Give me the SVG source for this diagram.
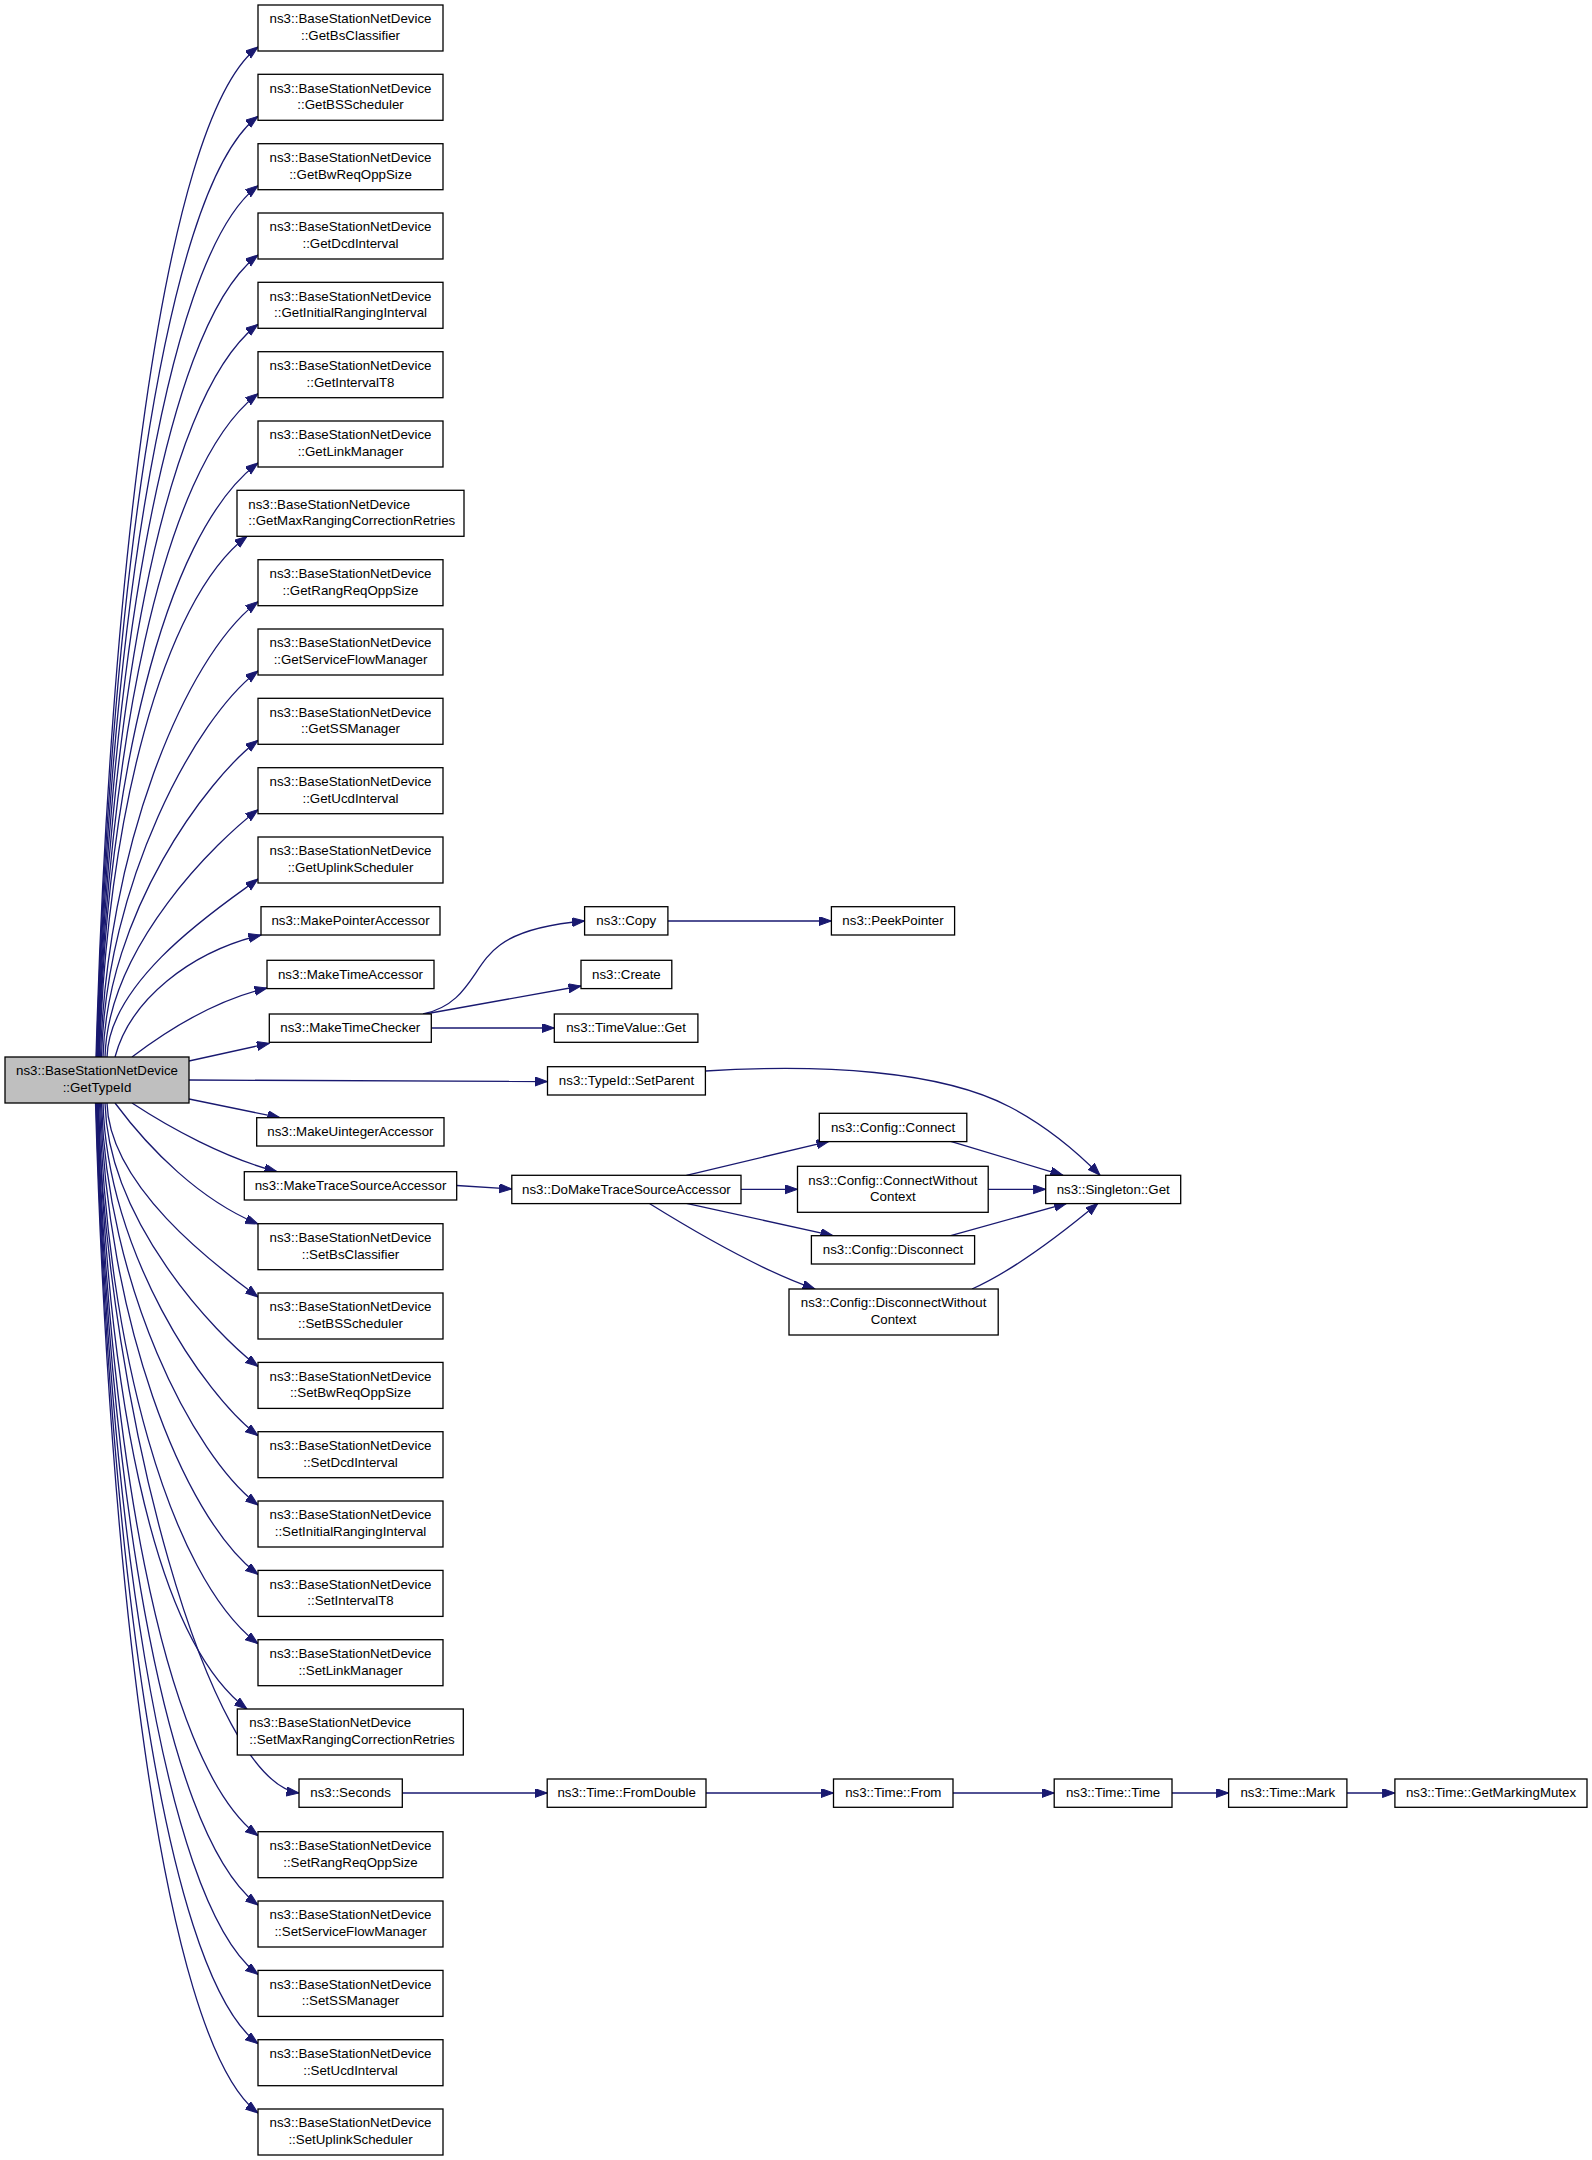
<svg xmlns="http://www.w3.org/2000/svg" width="1592" height="2160" viewBox="0 0 1592 2160">
<style>
.n rect{fill:#fff;stroke:#000;stroke-width:1.3}
.m rect{fill:#bfbfbf;stroke:#000;stroke-width:1.3}
text{font-family:"Liberation Sans",Arial,Helvetica,sans-serif;font-size:13.3px;fill:#000;text-anchor:middle}
text.l{text-anchor:start}
#edges path{fill:none;stroke:#191970;stroke-width:1.3;marker-end:url(#ah)}
</style>
<defs>
<marker id="ah" markerWidth="13" markerHeight="10" refX="12.5" refY="4.5" orient="auto" markerUnits="userSpaceOnUse">
<path d="M0,0 L12.5,4.5 L0,9 z" fill="#191970" stroke="#191970" stroke-width="1"/>
</marker>
</defs>
<rect width="1592" height="2160" fill="#fff"/>
<g id="edges">
<path d="M96,1057 C109.1,602.5 160,121 258,47"/>
<path d="M96.5,1057 C108.7,633.7 160,190.3 258,116.3"/>
<path d="M97,1057 C108.3,664.9 160,259.7 258,185.7"/>
<path d="M97.5,1057 C107.9,696.1 160,329 258,255"/>
<path d="M98,1057 C107.5,727.3 160,398.3 258,324.3"/>
<path d="M98.5,1057 C107.1,758.5 160,467.7 258,393.7"/>
<path d="M99,1057 C106.7,789.7 161,536.3 258,463"/>
<path d="M99.5,1057 C106.3,822.7 162,600.5 247,536.3"/>
<path d="M100.5,1057 C106.4,852.1 183.6,657.9 258,601.7"/>
<path d="M101.5,1057 C106.5,883.3 195,718.6 258,671"/>
<path d="M103,1057 C107.1,914.5 206.3,779.4 258,740.3"/>
<path d="M105,1057 C108.2,945.7 217.6,840.2 258,809.7"/>
<path d="M107,1057 C109.3,976.9 228.9,901 258,879"/>
<path d="M115,1057 C130,1000 190,952 261,935"/>
<path d="M132,1057 C165,1032 215,1000 267,988"/>
<path d="M189,1061 L269.3,1043.3"/>
<path d="M189,1080 L547.5,1081.5"/>
<path d="M189,1099 L280,1117.7"/>
<path d="M132,1103 C170,1128 225,1158 277,1171.7"/>
<path d="M115,1103 C150,1150 200,1200 258,1224"/>
<path d="M107,1103 C109.5,1190.3 226.3,1273.1 258,1297"/>
<path d="M105,1103 C108.4,1221.5 215,1333.9 258,1366.4"/>
<path d="M103,1103 C107.3,1252.7 203.7,1394.7 258,1435.7"/>
<path d="M101.5,1103 C106.7,1283.9 192.3,1455.4 258,1505"/>
<path d="M100.5,1103 C106.6,1315.1 181,1516.3 258,1574.4"/>
<path d="M99.5,1103 C106.5,1346.3 169.7,1577 258,1643.7"/>
<path d="M98.5,1103 C106.4,1375.7 149,1635 247,1709"/>
<path d="M98,1103 C107,1413 210,1782 299,1793"/>
<path d="M97.5,1103 C107,1432.7 160,1761.7 258,1835.7"/>
<path d="M97,1103 C107.4,1463.9 160,1831 258,1905"/>
<path d="M96.5,1103 C107.8,1495.1 160,1900.4 258,1974.4"/>
<path d="M96,1103 C108.2,1526.3 160,1969.7 258,2043.7"/>
<path d="M95.5,1103 C108.6,1557.5 160,2039 258,2113"/>
<path d="M423,1014 C470,1004 472,965 500,945 C520,930 550,924 584.6,921"/>
<path d="M425,1014 L581,986"/>
<path d="M431.3,1028 L554.3,1028"/>
<path d="M667.9,921 L831.4,921"/>
<path d="M705.4,1071 C820,1064 940,1070 1010,1107 C1050,1128 1080,1155 1100,1175.3"/>
<path d="M456.7,1185.5 L511.8,1189"/>
<path d="M686.4,1175.3 L829,1141.3"/>
<path d="M741,1189.3 L797.5,1189.3"/>
<path d="M686.4,1203.3 L833,1235.7"/>
<path d="M649,1203.3 C700,1235 760,1270 815,1289"/>
<path d="M950.7,1141.3 L1063,1175.3"/>
<path d="M988.2,1189.3 L1045.7,1189.3"/>
<path d="M950.7,1235.7 L1066.7,1203.3"/>
<path d="M972,1289 C1010,1272 1060,1235 1098,1203.3"/>
<path d="M402.3,1793 L547.2,1793"/>
<path d="M706,1793 L833.5,1793"/>
<path d="M953,1793 L1054.2,1793"/>
<path d="M1172,1793 L1228.6,1793"/>
<path d="M1346.9,1793 L1394.9,1793"/>
</g>
<g id="main" class="m"><rect x="5" y="1057" width="184" height="46"/><text x="97" y="1075.3">ns3::BaseStationNetDevice</text><text x="97" y="1092">::GetTypeId</text></g>
<g id="getBsClassifier" class="n"><rect x="258" y="5" width="185" height="46"/><text x="350.5" y="23.3">ns3::BaseStationNetDevice</text><text x="350.5" y="40">::GetBsClassifier</text></g>
<g id="getBSScheduler" class="n"><rect x="258" y="74.3" width="185" height="46"/><text x="350.5" y="92.6">ns3::BaseStationNetDevice</text><text x="350.5" y="109.3">::GetBSScheduler</text></g>
<g id="getBwReqOppSize" class="n"><rect x="258" y="143.7" width="185" height="46"/><text x="350.5" y="162">ns3::BaseStationNetDevice</text><text x="350.5" y="178.7">::GetBwReqOppSize</text></g>
<g id="getDcdInterval" class="n"><rect x="258" y="213" width="185" height="46"/><text x="350.5" y="231.3">ns3::BaseStationNetDevice</text><text x="350.5" y="248">::GetDcdInterval</text></g>
<g id="getInitialRangingInterval" class="n"><rect x="258" y="282.3" width="185" height="46"/><text x="350.5" y="300.6">ns3::BaseStationNetDevice</text><text x="350.5" y="317.3">::GetInitialRangingInterval</text></g>
<g id="getIntervalT8" class="n"><rect x="258" y="351.7" width="185" height="46"/><text x="350.5" y="370">ns3::BaseStationNetDevice</text><text x="350.5" y="386.7">::GetIntervalT8</text></g>
<g id="getLinkManager" class="n"><rect x="258" y="421" width="185" height="46"/><text x="350.5" y="439.3">ns3::BaseStationNetDevice</text><text x="350.5" y="456">::GetLinkManager</text></g>
<g id="getMaxRangingCorrectionRetries" class="n"><rect x="237" y="490.3" width="227" height="46"/><text class="l" x="248.3" y="508.6">ns3::BaseStationNetDevice</text><text class="l" x="248.3" y="525.3">::GetMaxRangingCorrectionRetries</text></g>
<g id="getRangReqOppSize" class="n"><rect x="258" y="559.7" width="185" height="46"/><text x="350.5" y="578">ns3::BaseStationNetDevice</text><text x="350.5" y="594.7">::GetRangReqOppSize</text></g>
<g id="getServiceFlowManager" class="n"><rect x="258" y="629" width="185" height="46"/><text x="350.5" y="647.3">ns3::BaseStationNetDevice</text><text x="350.5" y="664">::GetServiceFlowManager</text></g>
<g id="getSSManager" class="n"><rect x="258" y="698.3" width="185" height="46"/><text x="350.5" y="716.6">ns3::BaseStationNetDevice</text><text x="350.5" y="733.3">::GetSSManager</text></g>
<g id="getUcdInterval" class="n"><rect x="258" y="767.7" width="185" height="46"/><text x="350.5" y="786">ns3::BaseStationNetDevice</text><text x="350.5" y="802.7">::GetUcdInterval</text></g>
<g id="getUplinkScheduler" class="n"><rect x="258" y="837" width="185" height="46"/><text x="350.5" y="855.3">ns3::BaseStationNetDevice</text><text x="350.5" y="872">::GetUplinkScheduler</text></g>
<g id="makePointerAccessor" class="n"><rect x="261" y="906.7" width="179" height="28.3"/><text x="350.5" y="925">ns3::MakePointerAccessor</text></g>
<g id="makeTimeAccessor" class="n"><rect x="267" y="960.3" width="167" height="28.3"/><text x="350.5" y="978.6">ns3::MakeTimeAccessor</text></g>
<g id="makeTimeChecker" class="n"><rect x="269.3" y="1014" width="162" height="28.3"/><text x="350.3" y="1032.3">ns3::MakeTimeChecker</text></g>
<g id="makeUintegerAccessor" class="n"><rect x="256.7" y="1117.7" width="187.3" height="28.3"/><text x="350.4" y="1136">ns3::MakeUintegerAccessor</text></g>
<g id="makeTraceSourceAccessor" class="n"><rect x="244.3" y="1171.7" width="212.4" height="28.3"/><text x="350.5" y="1190">ns3::MakeTraceSourceAccessor</text></g>
<g id="setBsClassifier" class="n"><rect x="258" y="1223.7" width="185" height="46"/><text x="350.5" y="1242">ns3::BaseStationNetDevice</text><text x="350.5" y="1258.7">::SetBsClassifier</text></g>
<g id="setBSScheduler" class="n"><rect x="258" y="1293" width="185" height="46"/><text x="350.5" y="1311.3">ns3::BaseStationNetDevice</text><text x="350.5" y="1328">::SetBSScheduler</text></g>
<g id="setBwReqOppSize" class="n"><rect x="258" y="1362.4" width="185" height="46"/><text x="350.5" y="1380.7">ns3::BaseStationNetDevice</text><text x="350.5" y="1397.4">::SetBwReqOppSize</text></g>
<g id="setDcdInterval" class="n"><rect x="258" y="1431.7" width="185" height="46"/><text x="350.5" y="1450">ns3::BaseStationNetDevice</text><text x="350.5" y="1466.7">::SetDcdInterval</text></g>
<g id="setInitialRangingInterval" class="n"><rect x="258" y="1501" width="185" height="46"/><text x="350.5" y="1519.3">ns3::BaseStationNetDevice</text><text x="350.5" y="1536">::SetInitialRangingInterval</text></g>
<g id="setIntervalT8" class="n"><rect x="258" y="1570.4" width="185" height="46"/><text x="350.5" y="1588.7">ns3::BaseStationNetDevice</text><text x="350.5" y="1605.4">::SetIntervalT8</text></g>
<g id="setLinkManager" class="n"><rect x="258" y="1639.7" width="185" height="46"/><text x="350.5" y="1658">ns3::BaseStationNetDevice</text><text x="350.5" y="1674.7">::SetLinkManager</text></g>
<g id="setMaxRangingCorrectionRetries" class="n"><rect x="237.3" y="1709" width="226" height="46"/><text class="l" x="249.3" y="1727.3">ns3::BaseStationNetDevice</text><text class="l" x="249.3" y="1744">::SetMaxRangingCorrectionRetries</text></g>
<g id="seconds" class="n"><rect x="299" y="1779" width="103.3" height="28.3"/><text x="350.6" y="1797.3">ns3::Seconds</text></g>
<g id="setRangReqOppSize" class="n"><rect x="258" y="1831.7" width="185" height="46"/><text x="350.5" y="1850">ns3::BaseStationNetDevice</text><text x="350.5" y="1866.7">::SetRangReqOppSize</text></g>
<g id="setServiceFlowManager" class="n"><rect x="258" y="1901" width="185" height="46"/><text x="350.5" y="1919.3">ns3::BaseStationNetDevice</text><text x="350.5" y="1936">::SetServiceFlowManager</text></g>
<g id="setSSManager" class="n"><rect x="258" y="1970.4" width="185" height="46"/><text x="350.5" y="1988.7">ns3::BaseStationNetDevice</text><text x="350.5" y="2005.4">::SetSSManager</text></g>
<g id="setUcdInterval" class="n"><rect x="258" y="2039.7" width="185" height="46"/><text x="350.5" y="2058">ns3::BaseStationNetDevice</text><text x="350.5" y="2074.7">::SetUcdInterval</text></g>
<g id="setUplinkScheduler" class="n"><rect x="258" y="2109" width="185" height="46"/><text x="350.5" y="2127.3">ns3::BaseStationNetDevice</text><text x="350.5" y="2144">::SetUplinkScheduler</text></g>
<g id="copy" class="n"><rect x="584.6" y="906.7" width="83.3" height="28.3"/><text x="626.3" y="925">ns3::Copy</text></g>
<g id="create" class="n"><rect x="581" y="960.3" width="90.8" height="28.3"/><text x="626.4" y="978.6">ns3::Create</text></g>
<g id="timeValueGet" class="n"><rect x="554.3" y="1014" width="143.6" height="28.3"/><text x="626.1" y="1032.3">ns3::TimeValue::Get</text></g>
<g id="typeIdSetParent" class="n"><rect x="547.5" y="1066.7" width="157.9" height="28.3"/><text x="626.5" y="1085">ns3::TypeId::SetParent</text></g>
<g id="doMakeTraceSourceAccessor" class="n"><rect x="511.8" y="1175.3" width="229.2" height="28.3"/><text x="626.4" y="1193.6">ns3::DoMakeTraceSourceAccessor</text></g>
<g id="timeFromDouble" class="n"><rect x="547.2" y="1779" width="158.8" height="28.3"/><text x="626.6" y="1797.3">ns3::Time::FromDouble</text></g>
<g id="peekPointer" class="n"><rect x="831.4" y="906.7" width="123.2" height="28.3"/><text x="893" y="925">ns3::PeekPointer</text></g>
<g id="configConnect" class="n"><rect x="819.3" y="1113.3" width="147.5" height="28.3"/><text x="893" y="1131.6">ns3::Config::Connect</text></g>
<g id="configConnectWithoutContext" class="n"><rect x="797.5" y="1166.3" width="190.7" height="46"/><text x="892.9" y="1184.6">ns3::Config::ConnectWithout</text><text x="892.9" y="1201.3">Context</text></g>
<g id="configDisconnect" class="n"><rect x="811.4" y="1235.7" width="163.2" height="28.3"/><text x="893" y="1254">ns3::Config::Disconnect</text></g>
<g id="configDisconnectWithoutContext" class="n"><rect x="789" y="1289" width="209.2" height="46"/><text x="893.6" y="1307.3">ns3::Config::DisconnectWithout</text><text x="893.6" y="1324">Context</text></g>
<g id="timeFrom" class="n"><rect x="833.5" y="1779" width="119.5" height="28.3"/><text x="893.3" y="1797.3">ns3::Time::From</text></g>
<g id="singletonGet" class="n"><rect x="1045.7" y="1175.3" width="135" height="28.3"/><text x="1113.2" y="1193.6">ns3::Singleton::Get</text></g>
<g id="timeTime" class="n"><rect x="1054.2" y="1779" width="117.8" height="28.3"/><text x="1113.1" y="1797.3">ns3::Time::Time</text></g>
<g id="timeMark" class="n"><rect x="1228.6" y="1779" width="118.3" height="28.3"/><text x="1287.8" y="1797.3">ns3::Time::Mark</text></g>
<g id="timeGetMarkingMutex" class="n"><rect x="1394.9" y="1779" width="192.1" height="28.3"/><text x="1491" y="1797.3">ns3::Time::GetMarkingMutex</text></g>
</svg>
